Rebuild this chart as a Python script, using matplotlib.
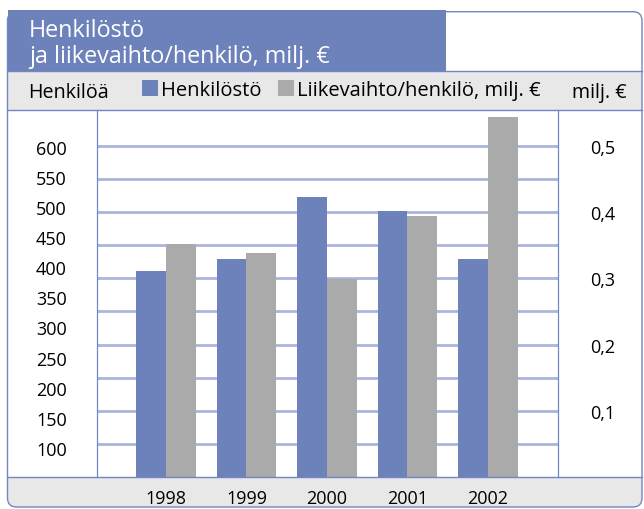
import matplotlib
matplotlib.use('Agg')
import matplotlib.pyplot as plt
from matplotlib.patches import Rectangle, FancyBboxPatch
from matplotlib.lines import Line2D
from matplotlib.transforms import IdentityTransform
import numpy as np

# data
years = ['1998', '1999', '2000', '2001', '2002']
staff = [393, 414, 516, 494, 414]                       # Henkilöstö (left axis)
revenue_per_person = [0.352, 0.338, 0.299, 0.394, 0.543]  # milj. € (right axis)
left_ticks = [100, 150, 200, 250, 300, 350, 400, 450, 500, 550, 600]
right_ticks = [0.1, 0.2, 0.3, 0.4, 0.5]
grid_steps = [0.05, 0.15, 0.25, 0.35, 0.45]

BLUE = '#6d82bb'
GRAY = '#aaaaaa'
BAND = '#e8e8e8'
FRAME = '#7286c2'
GRID = '#aab6dc'

W, H = 644, 510
plt.rcParams['font.family'] = ['Open Sans', 'DejaVu Sans']

fig = plt.figure(figsize=(W / 100, H / 100), dpi=100)


def pix(x, y):
    """top-left pixel coords -> display coords"""
    return x, H - y


def box(x0, y0, x1, y1, **kw):
    return Rectangle(pix(x0, y1), x1 - x0, y1 - y0, transform=IdentityTransform(), **kw)


# background panels
fig.patches.append(FancyBboxPatch(pix(7.5, 508), 634.5, 495.3, boxstyle='round,pad=0,rounding_size=9',
                                  transform=IdentityTransform(), fc=BAND, ec='none', zorder=-3))
fig.patches.append(FancyBboxPatch(pix(7.5, 100), 634.5, 87.3, boxstyle='round,pad=0,rounding_size=9',
                                  transform=IdentityTransform(), fc='white', ec='none', zorder=-2.8))
fig.patches.append(box(7.5, 72, 642, 111, fc=BAND, ec='none', zorder=-2.5))
fig.patches.append(box(7.5, 111, 642, 478, fc='white', ec='none', zorder=-2.5))
fig.patches.append(FancyBboxPatch(pix(7.5, 508), 634.5, 495.3, boxstyle='round,pad=0,rounding_size=9',
                                  transform=IdentityTransform(), fc='none', ec=FRAME, lw=1, zorder=2))
for yy in (72, 111, 478):
    fig.lines.append(Line2D([7.5, 642], [H - yy, H - yy], transform=IdentityTransform(),
                            color=FRAME, lw=1, zorder=2))

# title box
fig.patches.append(box(7.5, 11, 446, 72, fc=BLUE, ec='none', zorder=3))
fig.text(29 / W, 1 - 36.7 / H, 'Henkilöstö', color='white', fontsize=16.8, va='baseline', zorder=4)
fig.text(29 / W, 1 - 63 / H, 'ja liikevaihto/henkilö, milj. €', color='white', fontsize=16.8,
         va='baseline', zorder=4)

# axes
ax = fig.add_axes([96.7 / W, (H - 478) / H, (558 - 96.7) / W, (478 - 111) / H])
ax2 = ax.twinx()

x = np.arange(len(years))
w = 0.37
b1 = ax2.bar(x - w / 2, staff, w, color=BLUE, label='Henkilöstö')
b2 = ax.bar(x + w / 2, revenue_per_person, w, color=GRAY, label='Liikevaihto/henkilö, milj. €')

ax.set_xlim(-0.861, 4.870)
ax.set_ylim(0, 0.554)
ax2.set_ylim(51.9, 660.9)

ax.yaxis.tick_right()
ax2.yaxis.tick_left()
ax.set_yticks(right_ticks, labels=[f'{v:.1f}'.replace('.', ',') for v in right_ticks])
ax.set_yticks(grid_steps, minor=True)
ax.grid(axis='y', which='both', color=GRID, lw=2)
ax.set_axisbelow(True)
ax.tick_params(axis='y', which='both', length=0, pad=23, labelsize=13)
ax2.set_yticks(left_ticks)
ax2.tick_params(axis='y', length=0, pad=21.6, labelsize=13)
ax.set_xticks(x, years)
ax.tick_params(axis='x', length=0, pad=8.5, labelsize=13)

for a in (ax, ax2):
    a.spines['top'].set_visible(False)
    a.spines['bottom'].set_visible(False)
    a.spines['left'].set_color(FRAME)
    a.spines['right'].set_color(FRAME)

# header row: axis units and legend
fig.text(28 / W, 1 - 97.7 / H, 'Henkilöä', fontsize=14.2, va='baseline')
fig.text(572 / W, 1 - 97.7 / H, 'milj. €', fontsize=14.2, va='baseline')
fig.legend(handles=[b1, b2], loc='center left', bbox_to_anchor=(142 / W, 1 - 91 / H), ncol=2,
           frameon=False, fontsize=14.5, handlelength=0.8, handleheight=0.8, handletextpad=0.15,
           columnspacing=0.8, borderpad=0, borderaxespad=0)

fig.savefig('out.png', dpi=100)
